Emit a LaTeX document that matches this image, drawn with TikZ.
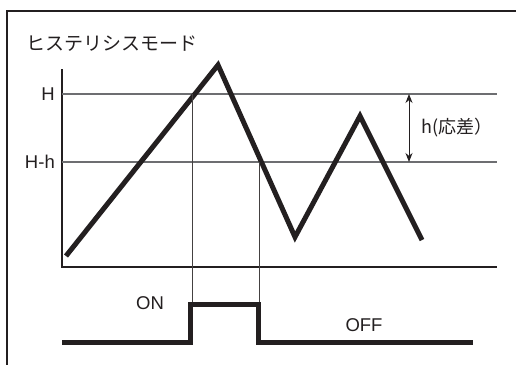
\documentclass[tikz,border=0pt]{standalone}
\usepackage{fontspec}
\setmainfont{Liberation Sans}
\newfontfamily\jp{Noto Sans CJK JP}
\usetikzlibrary{arrows.meta}
\definecolor{ink}{HTML}{231F20}
\definecolor{gridc}{HTML}{6D6E71}
\tikzset{
  frameline/.style={draw=ink, line width=2pt},
  axisline/.style={draw=ink, line width=1.8pt},
  gridline/.style={draw=gridc, line width=1.1pt},
  guideline/.style={draw=ink!85, line width=0.9pt},
  signal/.style={draw=ink, line width=5pt, line join=miter, line cap=butt},
  pulse/.style={draw=ink, line width=5pt, line join=miter, line cap=butt},
  lbl/.style={inner sep=0pt, font=\fontsize{18.5}{20}\selectfont, text=ink},
  jplbl/.style={inner sep=0pt, font=\jp\fontsize{18}{20}\selectfont, text=ink},
  dimarrow/.style={draw=ink, line width=1pt, {Stealth[length=9pt,width=7pt]}-{Stealth[length=9pt,width=7pt]}}
}
\begin{document}
\begin{tikzpicture}[x=1pt,y=-1pt]
\useasboundingbox (0,0) rectangle (516,364);
\fill[white] (0,0) rectangle (516,364);
% frame (left and top visible)
\draw[frameline] (7,365) -- (7,11) -- (517,11);
% title
\node[jplbl, anchor=west, font=\jp\fontsize{19}{21}\selectfont] (title) at (26,44) {ヒステリシスモード};
% axes
\coordinate (ytop) at (62,69);
\coordinate (orig) at (62,267);
\coordinate (xend) at (497,267);
\draw[axisline] (ytop) -- (orig) -- (xend);
% H and H-h lines
\coordinate (hL) at (62,94);
\coordinate (hR) at (497,94);
\coordinate (hhL) at (62,162);
\coordinate (hhR) at (497,162);
\draw[gridline] (hL) -- (hR);
\draw[gridline] (hhL) -- (hhR);
\node[lbl, anchor=east] (Hlab) at (55,94) {H};
\node[lbl, anchor=east] (Hhlab) at (55,162) {H-h};
% signal
\coordinate (s0) at (66,256);
\coordinate (p1) at (218,65);
\coordinate (v1) at (295,237);
\coordinate (p2) at (360,116);
\coordinate (s1) at (422,240);
\draw[signal] (s0) -- (p1) -- (v1) -- (p2) -- (s1);
% pulse
\coordinate (q0) at (62,342);
\coordinate (q1) at (190.5,342);
\coordinate (q2) at (190.5,304);
\coordinate (q3) at (258,304);
\coordinate (q4) at (258,342);
\coordinate (q5) at (473,342);
\draw[pulse] (q0) -- (q1) -- (q2) -- (q3) -- (q4) -- (q5);
% guide lines
\coordinate (g1t) at (192,94);
\coordinate (g1b) at (192,301.5);
\coordinate (g2t) at (259.5,162);
\coordinate (g2b) at (259.5,301.5);
\draw[guideline] (g1t) -- (g1b);
\draw[guideline] (g2t) -- (g2b);
% labels
\node[lbl] (on) at (150,303) {ON};
\node[lbl] (off) at (364,325) {OFF};
% hysteresis arrow
\coordinate (at) at (409,94);
\coordinate (ab) at (409,162);
\draw[dimarrow] (at) -- (ab);
\node[jplbl, anchor=west] (hlab) at (421,128) {h(応差）};
\end{tikzpicture}
\end{document}
